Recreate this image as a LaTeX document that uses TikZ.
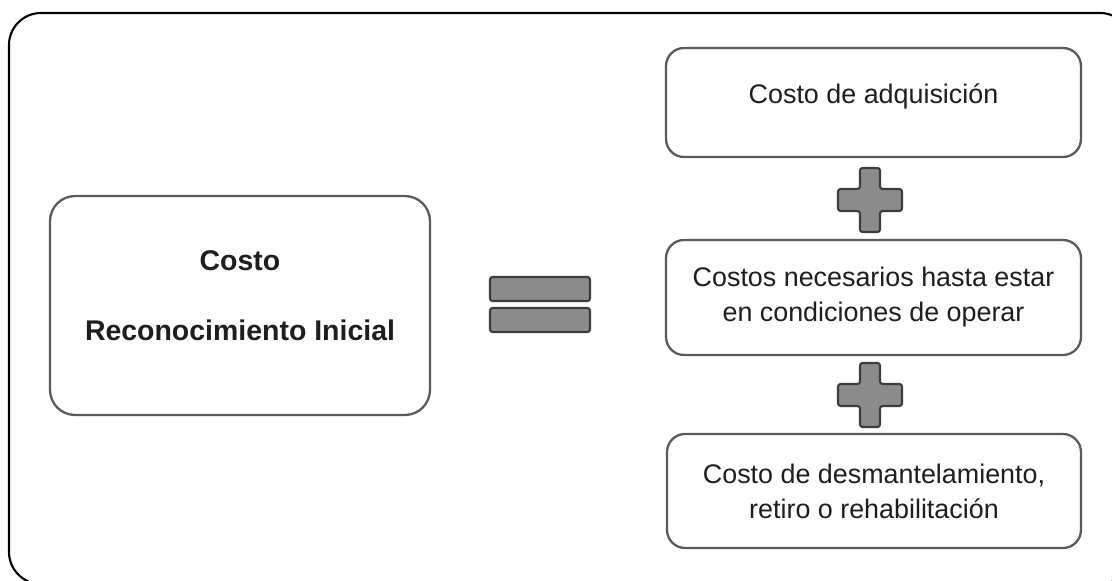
\documentclass[tikz,border=0pt]{standalone}
\usepackage{fontspec}
\setmainfont{Liberation Sans}
\usepackage{tikz}
\usetikzlibrary{positioning}

\definecolor{boxline}{HTML}{5A5A5A}
\definecolor{signfill}{HTML}{8C8C8C}
\definecolor{signline}{HTML}{3C3C3C}
\definecolor{txt}{HTML}{1E1E1E}

\tikzset{
  costbox/.style={draw=boxline, line width=1.3pt, rounded corners=0.36cm, fill=white,
    align=center, text=txt, inner sep=0pt},
  costtext/.style={align=center, text=txt, inner sep=0pt},
  sign/.style={draw=signline, line width=1.2pt, fill=signfill, rounded corners=1.5pt}
}

\begin{document}
\begin{tikzpicture}[x=0.02cm, y=-0.02cm, every node/.style={font=\fontsize{15.3pt}{19.9pt}\selectfont}]
            \useasboundingbox (0,0) rectangle (1112,581);
            \clip (0,0) rectangle (1112,581);

            % outer frame
            \draw[black, line width=1.2pt, rounded corners=0.64cm] (9,13) rectangle (1132,584);

            % left side
            \node[costbox, rounded corners=0.5cm, minimum width=7.6cm, minimum height=4.38cm]
                (initial) at (240,305.5) {};
            \node[costtext, font=\fontsize{16.2pt}{20pt}\selectfont\bfseries]
                (initialtext) at ([yshift=0.2cm]initial.center) {Costo\\[0.7cm]Reconocimiento Inicial};

            % right side
            \node[costbox, minimum width=8.3cm, minimum height=2.18cm]
                (acquisition) at (873.5,102.5) {};
            \node[costtext] (acquisitiontext) at ([yshift=0.12cm]acquisition.center) {Costo de adquisición};
            \node[costbox, minimum width=8.3cm, minimum height=2.3cm]
                (operating) at (873.5,297.5) {Costos necesarios hasta estar\\en condiciones de operar};
            \node[costbox, minimum width=8.28cm, minimum height=2.28cm]
                (dismantling) at (874,491) {Costo de desmantelamiento,\\retiro o rehabilitación};

            % equals sign
            \foreach \y in {277,308}
                \draw[sign] (490,\y) rectangle (590,\y+24);

            % plus signs
            \foreach \y in {200,395}
                \draw[sign, shift={(870,\y)}] (-10,-32) -- (10,-32) -- (10,-11) -- (32,-11) -- (32,11)
                    -- (10,11) -- (10,32) -- (-10,32) -- (-10,11) -- (-32,11) -- (-32,-11) -- (-10,-11) -- cycle;
\end{tikzpicture}
\end{document}
